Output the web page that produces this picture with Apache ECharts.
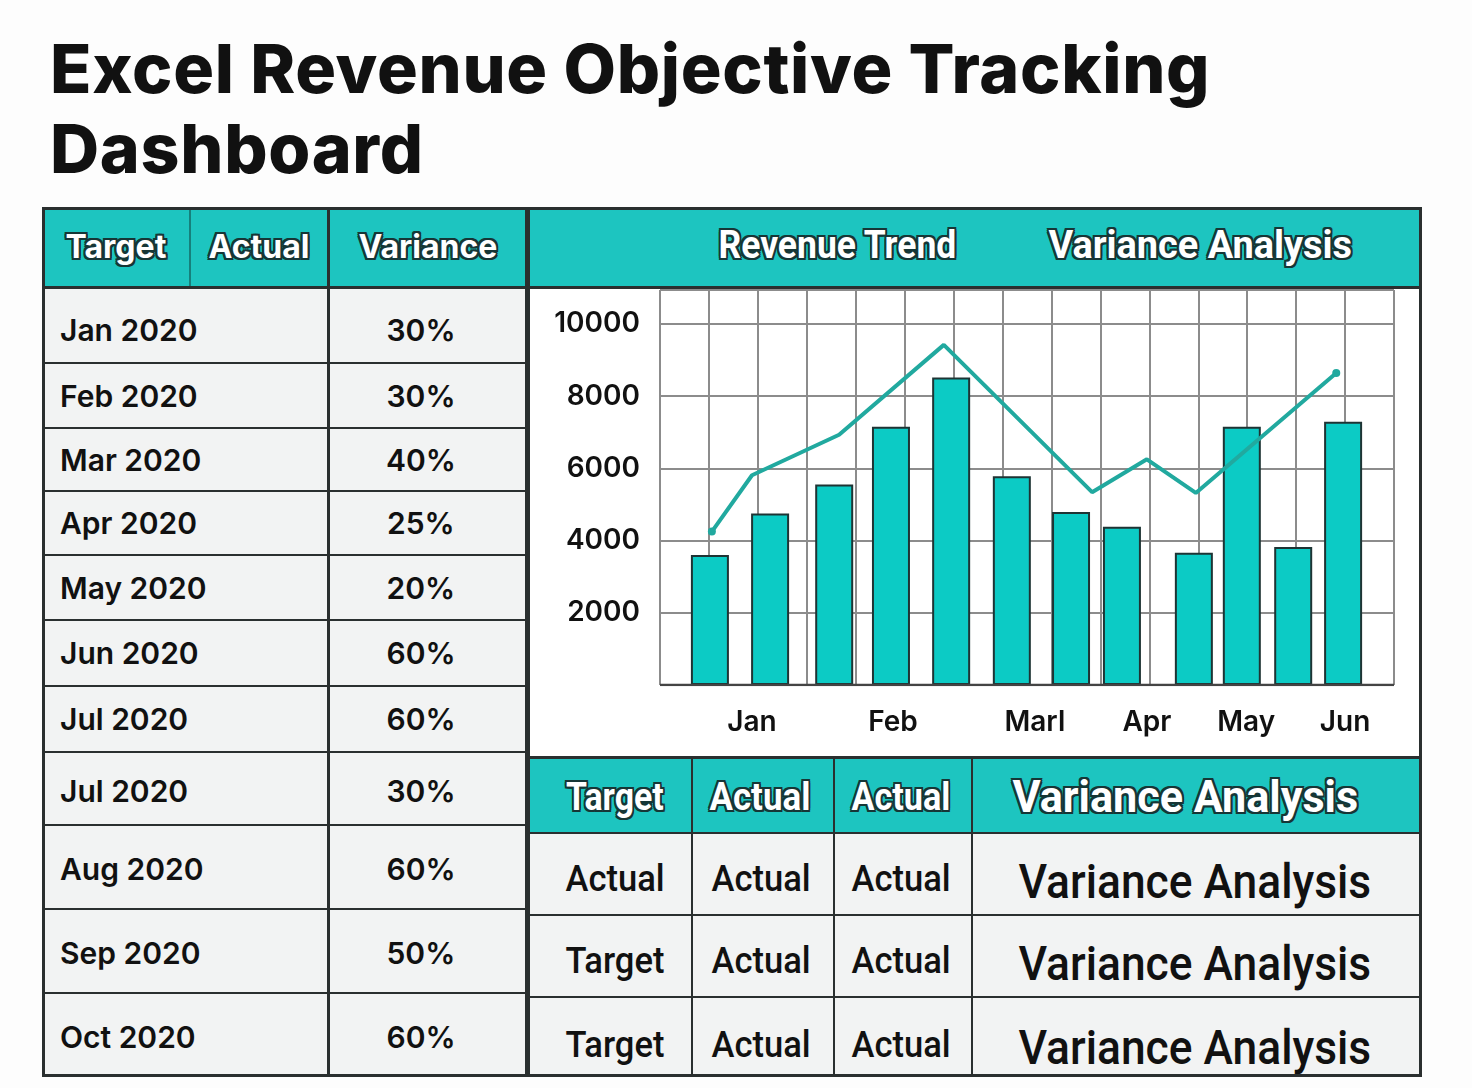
<!DOCTYPE html>
<html>
<head>
<meta charset="utf-8">
<script src="https://cdn.jsdelivr.net/npm/echarts@6/dist/echarts.min.js"></script>
<style>
  body { margin: 0; width: 1472px; height: 1088px; background: #fdfdfd; position: relative; overflow: hidden; font-family: Inter, "Liberation Sans", sans-serif; color: #111; }
  .abs { position: absolute; box-sizing: border-box; }
  .title { left: 50px; top: 28px; font-size: 68px; font-weight: 800; line-height: 80px; letter-spacing: 0.7px; white-space: nowrap; }
  .t { position: absolute; white-space: nowrap; }
  .hd { color: #fff; font-weight: 700;
        text-shadow: -2px -2px 0 #163636, 2px -2px 0 #163636, -2px 2px 0 #163636, 2px 2px 0 #163636,
                     0 -2px 0 #163636, 0 2px 0 #163636, -2px 0 0 #163636, 2px 0 0 #163636; }
  .narrow { font-family: Roboto, "DejaVu Sans Condensed", sans-serif; }
  #chart { position: absolute; left: 529px; top: 288px; width: 892px; height: 468px; z-index: 10; }
</style>
</head>
<body>
<div class="abs title">Excel Revenue Objective Tracking<br>Dashboard</div>
<div id="chart"></div>
<script>
// ---- left table
const leftHeaders = ['Target', 'Actual', 'Variance'];
const months = ['Jan 2020', 'Feb 2020', 'Mar 2020', 'Apr 2020', 'May 2020', 'Jun 2020',
                'Jul 2020', 'Jul 2020', 'Aug 2020', 'Sep 2020', 'Oct 2020'];
const variances = ['30%', '30%', '40%', '25%', '20%', '60%', '60%', '30%', '60%', '50%', '60%'];

// ---- chart panel
const panelTitles = ['Revenue Trend', 'Variance Analysis'];
const barX = [1.02, 2.25, 3.56, 4.72, 5.95, 7.19, 8.40, 9.44, 10.91, 11.89, 12.94, 13.96];
const barValues = [3600, 4750, 5550, 7150, 8520, 5780, 4790, 4380, 3660, 7150, 3820, 7290];
const lineX = [1.06, 1.88, 3.66, 5.80, 8.83, 9.95, 10.95, 13.82];
const lineValues = [4250, 5810, 6930, 9420, 5340, 6250, 5320, 8640];
const monthLabels = ['Jan', 'Feb', 'Marl', 'Apr', 'May', 'Jun'];
const monthLabelX = [1.88, 4.76, 7.66, 9.95, 11.98, 14.0];
const yTicks = [2000, 4000, 6000, 8000, 10000];

// ---- bottom right table
const rightHeaders = ['Target', 'Actual', 'Actual', 'Variance Analysis'];
const rightRows = [
  ['Actual', 'Actual', 'Actual', 'Variance Analysis'],
  ['Target', 'Actual', 'Actual', 'Variance Analysis'],
  ['Target', 'Actual', 'Actual', 'Variance Analysis']
];

const TEAL = '#1dc5c0';
const BODY = '#f2f3f3';
const LINE = '#2a2f2f';

function box(x, y, w, h, css) {
  const d = document.createElement('div');
  d.className = 'abs';
  d.style.cssText += `left:${x}px;top:${y}px;width:${w}px;height:${h}px;` + (css || '');
  document.body.appendChild(d);
  return d;
}
// text placed by its centre (or left edge), optionally squeezed to a given width
function text(str, x, y, cls, css, opts) {
  opts = opts || {};
  const d = document.createElement('div');
  d.className = 't ' + (cls || '');
  d.textContent = str;
  d.style.cssText += css || '';
  document.body.appendChild(d);
  const w = d.offsetWidth, h = d.offsetHeight;
  const sx = opts.width ? opts.width / w : 1;
  d.style.left = (opts.left ? x : x - w / 2) + 'px';
  d.style.top = (y - h / 2) + 'px';
  d.style.transformOrigin = opts.left ? '0 50%' : '50% 50%';
  d.style.transform = `scaleX(${sx})`;
  return d;
}
const hline = (x1, x2, y, w) => box(x1, y - (w || 2) / 2, x2 - x1, w || 2, `background:${LINE}`);
const vline = (x, y1, y2, w) => box(x - (w || 2) / 2, y1, w || 2, y2 - y1, `background:${LINE}`);

// backgrounds
box(42, 207, 486, 80, `background:${TEAL}`);
box(42, 287, 486, 790, `background:${BODY}`);
box(528, 207, 894, 80, `background:${TEAL}`);
box(528, 287, 894, 470, 'background:#ffffff');
box(528, 757, 894, 76, `background:${TEAL}`);
box(528, 833, 894, 244, `background:${BODY}`);

// left table
const lCols = [42, 190, 328, 528];
const lRows = [287, 363, 428, 491, 555, 620, 686, 752, 825, 909, 993, 1077];
leftHeaders.forEach((h, i) => text(h, (lCols[i] + lCols[i + 1]) / 2, 246, 'hd', 'font-size:32px'));
box(189, 207, 2, 80, 'background:#16807c');
vline(328, 207, 1077, 3);
lRows.forEach((y, i) => { if (i < lRows.length - 1) hline(42, 528, y, i === 0 ? 3 : 2); });
months.forEach((m, i) => {
  const cy = (lRows[i] + lRows[i + 1]) / 2 + (i === 0 ? 5 : i >= 7 ? 2 : 0);
  text(m, 60, cy, '', 'font-size:30px;font-weight:600', { left: true });
  text(variances[i], 421, cy, '', 'font-size:30px;font-weight:600');
});

// chart panel header
text(panelTitles[0], 837, 245, 'hd narrow', 'font-size:38px', { width: 238 });
text(panelTitles[1], 1200, 245, 'hd narrow', 'font-size:38px', { width: 304 });
hline(528, 1422, 287, 3);
hline(528, 1422, 757, 3);

// bottom right table
const rCols = [528, 692, 834, 972, 1422];
const rRows = [757, 833, 915, 997, 1077];
const headW = [98, 101, 99, 346];
const headX = [615, 760, 901, 1185];
rightHeaders.forEach((h, i) => text(h, headX[i], 797, 'hd narrow',
  i === 3 ? 'font-size:44px' : 'font-size:38px', { width: headW[i] }));
const cellX = [615, 761, 901, 1195];
const cellY = [878, 960, 1044];
rightRows.forEach((row, r) => {
  row.forEach((c, i) => text(c, cellX[i], cellY[r] + (i === 3 ? 3 : 0), 'narrow',
    i === 3 ? 'font-size:48px;font-weight:500' : 'font-size:37px;font-weight:500',
    { width: i === 3 ? 353 : 99 }));
});
rCols.slice(1, 4).forEach(x => vline(x, 757, 1077, 2));
rRows.slice(1, 4).forEach(y => hline(528, 1422, y, 2));

// outer borders
box(42, 207, 486, 870, `border:3px solid ${LINE}`);
box(527, 207, 895, 870, `border:3px solid ${LINE}`);

// ---- chart
const chart = echarts.init(document.getElementById('chart'), null, { renderer: 'canvas' });
const labelAt = {};
monthLabelX.forEach((v, i) => { labelAt[v] = monthLabels[i]; });
chart.setOption({
  animation: false,
  grid: { left: 131, right: 27, top: 2, bottom: 71 },
  xAxis: {
    type: 'value', min: 0, max: 15, interval: 1,
    axisLine: { show: false },
    axisTick: { show: false },
    splitLine: { show: true, lineStyle: { color: '#8c8c8c', width: 2 } },
    axisLabel: {
      customValues: monthLabelX,
      formatter: v => labelAt[v] || '',
      margin: 24, fontSize: 28, fontWeight: 600, color: '#111', fontFamily: 'Inter'
    }
  },
  yAxis: {
    type: 'value', min: 0, max: 10940, interval: 2000,
    axisLine: { show: false },
    axisTick: { show: false },
    splitLine: { show: true, lineStyle: { color: '#8c8c8c', width: 2 } },
    axisLabel: {
      showMinLabel: false, showMaxLabel: false,
      formatter: v => (yTicks.indexOf(v) >= 0 ? String(v) : ''),
      margin: 20, fontSize: 28, fontWeight: 600, color: '#111', fontFamily: 'Inter'
    }
  },
  series: [
    {
      type: 'bar',
      barWidth: 38,
      data: barX.map((x, i) => [x, barValues[i]]),
      itemStyle: { color: '#0ccbc5', borderColor: '#1e3434', borderWidth: 2 },
      z: 2
    },
    {
      type: 'line',
      data: lineX.map((x, i) => [x, lineValues[i]]),
      lineStyle: { color: '#21a99f', width: 4 },
      itemStyle: { color: '#21a99f' },
      symbol: 'circle',
      symbolSize: (v, p) => (p.dataIndex === 0 || p.dataIndex === lineX.length - 1 ? 8 : 0),
      z: 3
    },
    {
      // x-axis baseline
      type: 'line',
      data: [[0, 0], [15, 0]],
      symbol: 'none',
      lineStyle: { color: '#444', width: 2.5 },
      z: 4,
      silent: true
    }
  ]
});
</script>
</body>
</html>
